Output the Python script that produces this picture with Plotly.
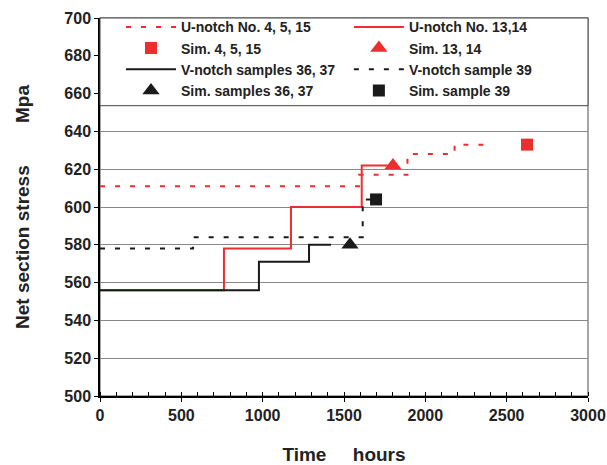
import plotly.graph_objects as go

# ---- data ----
u_dash_x = [0, 1592, 1890, 2180, 2380]          # U-notch No. 4, 5, 15 (step change times)
u_dash_y = [611, 617, 628, 633, 633]
u_solid_x = [0, 762, 1174, 1609, 1790]          # U-notch No. 13,14
u_solid_y = [556, 578, 600, 622, 622]
v_solid_x = [0, 977, 1285, 1420]                # V-notch samples 36, 37
v_solid_y = [556, 571, 580, 580]
v_dash_x = [0, 572, 1615, 1690]                 # V-notch sample 39
v_dash_y = [578, 584, 604, 604]
sim_u1_x, sim_u1_y = [2625], [633]              # Sim. 4, 5, 15
sim_u2_x, sim_u2_y = [1801], [622]              # Sim. 13, 14
sim_v1_x, sim_v1_y = [1537], [580]              # Sim. samples 36, 37
sim_v2_x, sim_v2_y = [1697], [604]              # Sim. sample 39

RED = "#EE2E2E"
BLK = "#1a1a1a"
FONT = "Liberation Sans"
NB = "\u00a0"

fig = go.Figure()
# column 1 of the legend -> "legend", column 2 -> "legend2"
fig.add_trace(go.Scatter(x=u_dash_x, y=u_dash_y, mode="lines", line_shape="hv",
                         name="U-notch No. 4, 5, 15", legend="legend",
                         line=dict(color=RED, width=2, dash="5px,10px")))
fig.add_trace(go.Scatter(x=u_solid_x, y=u_solid_y, mode="lines", line_shape="hv",
                         name="U-notch No. 13,14", legend="legend2",
                         line=dict(color=RED, width=2)))
fig.add_trace(go.Scatter(x=sim_u1_x, y=sim_u1_y, mode="markers", name="Sim. 4, 5, 15",
                         legend="legend",
                         marker=dict(symbol="square", color=RED, size=12)))
fig.add_trace(go.Scatter(x=sim_u2_x, y=sim_u2_y, mode="markers", name="Sim. 13, 14",
                         legend="legend2",
                         marker=dict(symbol="triangle-up", color=RED, size=15)))
fig.add_trace(go.Scatter(x=v_solid_x, y=v_solid_y, mode="lines", line_shape="hv",
                         name="V-notch samples 36, 37", legend="legend",
                         line=dict(color=BLK, width=2)))
fig.add_trace(go.Scatter(x=v_dash_x, y=v_dash_y, mode="lines", line_shape="hv",
                         name="V-notch sample 39", legend="legend2",
                         line=dict(color=BLK, width=2, dash="5px,10px")))
fig.add_trace(go.Scatter(x=sim_v1_x, y=sim_v1_y, mode="markers", name="Sim. samples 36, 37",
                         legend="legend",
                         marker=dict(symbol="triangle-up", color=BLK, size=15)))
fig.add_trace(go.Scatter(x=sim_v2_x, y=sim_v2_y, mode="markers", name="Sim. sample 39",
                         legend="legend2",
                         marker=dict(symbol="square", color=BLK, size=12)))

# plot-area frame (grey) and legend box
fig.add_shape(type="rect", xref="paper", yref="paper", x0=0, x1=1, y0=0, y1=1,
              line=dict(color="#888888", width=1.5), layer="below")
fig.add_shape(type="rect", xref="paper", yref="paper", x0=0, x1=1, y0=0.768, y1=1,
              line=dict(color="#444444", width=1), fillcolor="white", layer="above")

legend_font = dict(family=FONT, size=14, color="#222222", weight="bold")
common_leg = dict(orientation="v", yanchor="top", xanchor="left", y=1.015,
                  bgcolor="rgba(0,0,0,0)", borderwidth=0, font=legend_font,
                  itemwidth=50, traceorder="normal", tracegroupgap=0)

fig.update_layout(
    width=607, height=465,
    margin=dict(l=100, r=19, t=17, b=69),
    paper_bgcolor="white", plot_bgcolor="white",
    font=dict(family=FONT, size=15, color="#222222"),
    showlegend=True,
    legend=dict(x=0.043, **common_leg),
    legend2=dict(x=0.51, **common_leg),
    xaxis=dict(range=[0, 3000], dtick=500, tick0=0, showgrid=False, zeroline=False,
               showline=True, linecolor="black", linewidth=1.5, automargin=False,
               ticks="outside", ticklen=4, tickcolor="black",
               minor=dict(dtick=100, ticks="inside", ticklen=4, tickcolor="black"),
               tickfont=dict(family=FONT, size=16, weight="bold", color="#222222"),
               title=dict(text="Time" + NB * 5 + "hours", standoff=26,
                          font=dict(family=FONT, size=19, weight="bold", color="#222222"))),
    yaxis=dict(range=[500, 700], dtick=20, tick0=500, showgrid=True,
               gridcolor="#888888", gridwidth=1, zeroline=False, automargin=False,
               showline=True, linecolor="black", linewidth=1.5,
               ticks="outside", ticklen=4, tickcolor="black",
               tickfont=dict(family=FONT, size=16, weight="bold", color="#222222"),
               title=dict(text=NB * 4 + "Net section stress" + NB * 8 + "Mpa", standoff=30,
                          font=dict(family=FONT, size=19, weight="bold", color="#222222"))),
)

fig.write_html("out.html")
